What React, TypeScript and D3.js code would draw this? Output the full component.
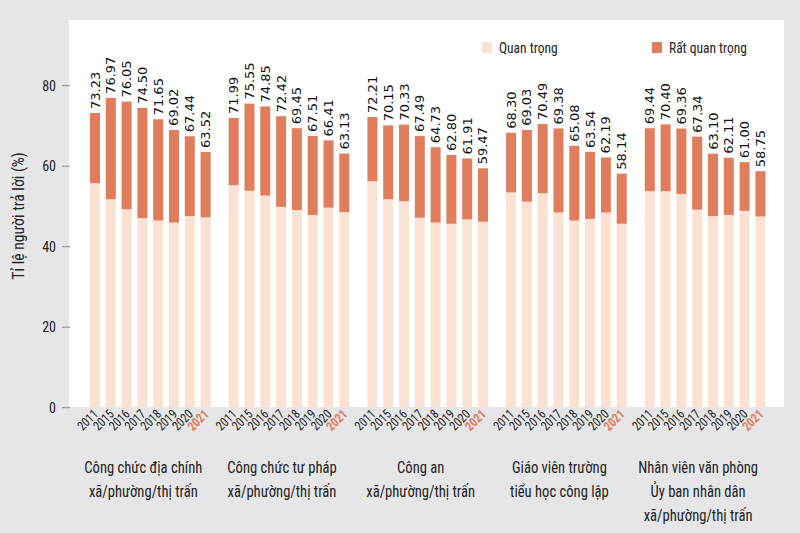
import React from "react";
import * as d3 from "d3";

const years = ["2011", "2015", "2016", "2017", "2018", "2019", "2020", "2021"];

const groupLabels: string[][] = [
  ["Công chức địa chính", "xã/phường/thị trấn"],
  ["Công chức tư pháp", "xã/phường/thị trấn"],
  ["Công an", "xã/phường/thị trấn"],
  ["Giáo viên trường", "tiểu học công lập"],
  ["Nhân viên văn phòng", "Ủy ban nhân dân", "xã/phường/thị trấn"],
];

// "Quan trọng" (light segment)
const quanTrong: number[][] = [
  [55.8, 51.8, 49.3, 47.1, 46.5, 46.0, 47.6, 47.3],
  [55.3, 53.9, 52.7, 49.9, 49.1, 47.9, 49.7, 48.6],
  [56.3, 51.8, 51.3, 47.2, 46.0, 45.7, 46.8, 46.2],
  [53.5, 51.2, 53.3, 48.5, 46.5, 46.9, 48.5, 45.7],
  [53.8, 53.8, 53.1, 49.2, 47.6, 47.9, 48.9, 47.5],
];

// "Rất quan trọng" (dark segment)
const ratQuanTrong: number[][] = [
  [17.43, 25.17, 26.75, 27.4, 25.15, 23.02, 19.84, 16.22],
  [16.69, 21.65, 22.15, 22.52, 20.35, 19.61, 16.71, 14.53],
  [15.91, 18.35, 19.03, 20.29, 18.73, 17.1, 15.11, 13.27],
  [14.8, 17.83, 17.19, 20.88, 18.58, 16.64, 13.69, 12.44],
  [15.64, 16.6, 16.26, 18.14, 15.5, 14.21, 12.1, 11.25],
];

const yTicks = [0, 20, 40, 60, 80];
const seriesNames = ["Quan trọng", "Rất quan trọng"];

const LIGHT = "#fbe2d3";
const DARK = "#e07d5c";
const BG = "#e6e6e8";
const NARROW = "'Liberation Sans Narrow', 'Roboto Condensed', 'Arial Narrow', Roboto, sans-serif";
const VALFONT = "'DejaVu Sans', 'Open Sans', sans-serif";

export default function App() {
  const W = 800;
  const H = 533;
  const groupIdx = groupLabels.map((_, i) => String(i));

  const x0 = d3.scaleBand<string>().domain(groupIdx).range([90, 765.4]).paddingInner(0.1305).paddingOuter(0);
  const x1 = d3.scaleBand<string>().domain(years).range([0, x0.bandwidth()]).paddingInner(0.367).paddingOuter(0);
  const y = d3.scaleLinear().domain([0, 80]).range([407.7, 85.7]);

  return (
    <svg width={W} height={H} style={{ position: "absolute", left: 0, top: 0 }} xmlns="http://www.w3.org/2000/svg">
      <rect x={0} y={0} width={W} height={H} fill={BG} />
      <rect x={69} y={20} width={715} height={387} fill="#ffffff" />

      {/* y axis */}
      {yTicks.map((t) => (
        <g key={t}>
          <line x1={62} x2={70} y1={y(t)} y2={y(t)} stroke="#8a8a8a" strokeWidth={1} />
          <text x={56} y={y(t)} dy="0.35em" textAnchor="end" fontFamily={NARROW} fontSize={14} fill="#222">
            {t}
          </text>
        </g>
      ))}
      <text
        transform={`translate(24, 216) rotate(-90) scale(0.92,1)`}
        textAnchor="middle"
        fontFamily={NARROW}
        fontSize={17}
        fill="#222"
      >
        Tỉ lệ người trả lời (%)
      </text>

      {/* bars */}
      {groupIdx.map((g, gi) => {
        const gx = x0(g) as number;
        return (
          <g key={g} transform={`translate(${gx},0)`}>
            {years.map((yr, yi) => {
              const bx = x1(yr) as number;
              const bw = x1.bandwidth();
              const q = quanTrong[gi][yi];
              const r = ratQuanTrong[gi][yi];
              const total = q + r;
              const cx = bx + bw / 2;
              return (
                <g key={yr}>
                  <rect x={bx} y={y(q)} width={bw} height={y(0) - y(q)} fill={LIGHT} />
                  <rect x={bx} y={y(total)} width={bw} height={y(q) - y(total)} fill={DARK} />
                  <text
                    transform={`translate(${cx + 4.5}, ${y(total) - 4}) rotate(-90)`}
                    textAnchor="start"
                    fontFamily={VALFONT}
                    fontSize={13}
                    fill="#111"
                  >
                    {total.toFixed(2)}
                  </text>
                  <text
                    transform={`translate(${cx + 4}, ${415}) rotate(-45) scale(0.9,1)`}
                    textAnchor="end"
                    fontFamily={NARROW}
                    fontSize={13}
                    fontWeight={yr === "2021" ? "bold" : "normal"}
                    fill={yr === "2021" ? DARK : "#222"}
                  >
                    {yr}
                  </text>
                </g>
              );
            })}
            {groupLabels[gi].map((line, li) => (
              <text
                key={li}
                transform={`translate(${x0.bandwidth() / 2 - 7}, ${473 + li * 24}) scale(0.86,1)`}
                textAnchor="middle"
                fontFamily={NARROW}
                fontSize={17}
                fill="#222"
              >
                {line}
              </text>
            ))}
          </g>
        );
      })}

      {/* legend */}
      {seriesNames.map((s, i) => {
        const lx = i === 0 ? 482 : 652;
        return (
          <g key={s}>
            <rect x={lx} y={42} width={10} height={11} fill={i === 0 ? LIGHT : DARK} />
            <text
              transform={`translate(${lx + 17}, 52.5) scale(0.9,1)`}
              fontFamily={NARROW}
              fontSize={15}
              fill="#222"
            >
              {s}
            </text>
          </g>
        );
      })}
    </svg>
  );
}
